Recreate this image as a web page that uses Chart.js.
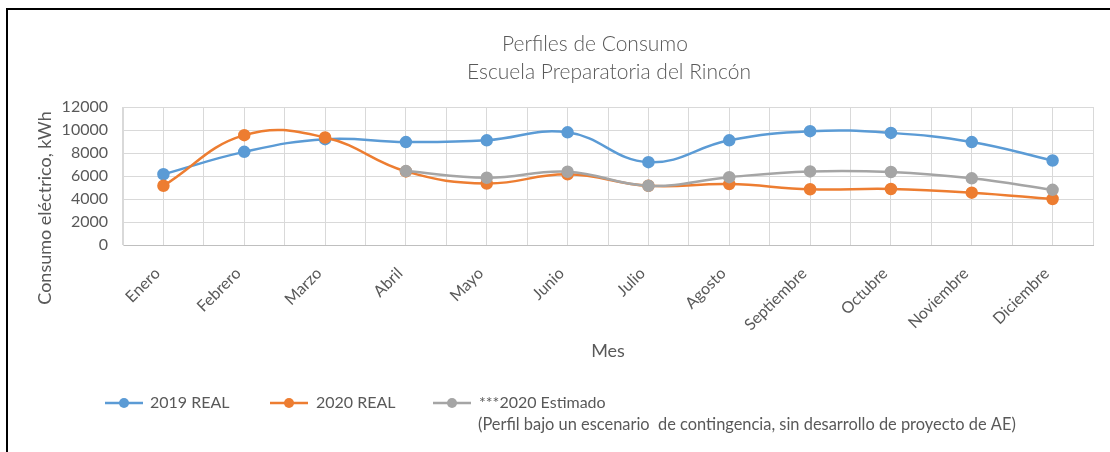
<!DOCTYPE html>
<html><head><meta charset="utf-8">
<script src="https://cdn.jsdelivr.net/npm/chart.js@4/dist/chart.umd.min.js"></script>
<style>html,body{margin:0;padding:0;background:#fff}#wrap{width:1110px;height:452px;position:relative}</style>
</head><body><div id="wrap"><canvas id="c"></canvas></div>
<script>
const categories = ['Enero','Febrero','Marzo','Abril','Mayo','Junio','Julio','Agosto','Septiembre','Octubre','Noviembre','Diciembre'];
const real2019 = [6150, 8100, 9200, 8950, 9100, 9800, 7200, 9100, 9900, 9750, 8950, 7350];
const real2020 = [5150, 9550, 9350, 6400, 5350, 6150, 5150, 5300, 4850, 4870, 4550, 4000];
const estimado2020 = [null, null, null, 6430, 5850, 6370, 5150, 5900, 6400, 6350, 5800, 4800];
const seriesNames = ['2019 REAL', '2020 REAL', '***2020 Estimado'];
const seriesColors = ['#5B9BD5', '#ED7D31', '#A5A5A5'];
const titleLines = ['Perfiles de Consumo', 'Escuela Preparatoria del Rincón'];
const yAxisTitle = 'Consumo eléctrico, kWh';
const xAxisTitle = 'Mes';
const legendNote = '(Perfil bajo un escenario  de contingencia, sin desarrollo de proyecto de AE)';
const yMin = 0, yMax = 12000, yStep = 2000;

const FONT = 'Lato, "Open Sans", sans-serif';
const TXT = '#595959';
const GRID = '#D9D9D9';

const decor = {
  id: 'decor',
  afterDraw(chart) {
    const ctx = chart.ctx;
    const area = chart.chartArea;
    ctx.save();
    // frame
    ctx.fillStyle = '#000';
    ctx.fillRect(6, 8, 2, 452);
    ctx.fillRect(6, 8, 1104, 2);
    // title
    ctx.fillStyle = TXT;
    ctx.textAlign = 'center';
    ctx.textBaseline = 'middle';
    ctx.font = '300 21px ' + FONT;
    ctx.fillText(titleLines[0], 595, 44);
    ctx.fillText(titleLines[1], 609, 72);
    // x title
    ctx.font = '18px ' + FONT;
    ctx.fillText(xAxisTitle, (area.left + area.right) / 2, 351);
    // y title
    ctx.save();
    ctx.font = '18px ' + FONT;
    ctx.translate(45, 208);
    ctx.rotate(-Math.PI / 2);
    ctx.fillText(yAxisTitle, 0, 0);
    ctx.restore();
    // legend
    const items = [[105, 150], [270, 316], [433, 479]];
    ctx.font = '16px ' + FONT;
    ctx.textAlign = 'left';
    items.forEach((it, i) => {
      const y = 403;
      ctx.strokeStyle = seriesColors[i];
      ctx.lineWidth = 2.5;
      ctx.beginPath();
      ctx.moveTo(it[0], y);
      ctx.lineTo(it[0] + 38, y);
      ctx.stroke();
      ctx.fillStyle = seriesColors[i];
      ctx.beginPath();
      ctx.arc(it[0] + 19, y, 5, 0, Math.PI * 2);
      ctx.fill();
      ctx.fillStyle = TXT;
      ctx.fillText(seriesNames[i], it[1], y);
    });
    ctx.font = '16.4px ' + FONT;
    ctx.fillText(legendNote, 478, 425);
    ctx.restore();
  }
};

function ds(label, data, color, order) {
  return {
    label, data, order,
    borderColor: color, backgroundColor: color,
    pointBackgroundColor: color, pointBorderColor: color,
    borderWidth: 2.5, pointRadius: 5, pointHoverRadius: 5,
    tension: 0.42, fill: false, spanGaps: false
  };
}

new Chart(document.getElementById('c'), {
  type: 'line',
  data: {
    labels: categories,
    datasets: [
      ds(seriesNames[0], real2019, seriesColors[0], 3),
      ds(seriesNames[1], real2020, seriesColors[1], 2),
      ds(seriesNames[2], estimado2020, seriesColors[2], 1)
    ]
  },
  options: {
    responsive: true, maintainAspectRatio: false, animation: false,
    layout: { padding: { left: 0, right: 17, top: 107, bottom: 0 } },
    plugins: { legend: { display: false }, title: { display: false }, tooltip: { enabled: false } },
    scales: {
      x: {
        type: 'category', position: 'bottom', offset: true,
        grid: { color: GRID, lineWidth: 1, offset: false, drawTicks: false },
        border: { color: '#BFBFBF', width: 1 },
        ticks: { color: TXT, font: { family: FONT, size: 16 }, minRotation: 45, maxRotation: 45, padding: 19, labelOffset: -6, autoSkip: false },
        afterFit(s) { s.height = 207; }
      },
      x2: {
        type: 'category', position: 'bottom', offset: true, labels: categories,
        grid: { color: GRID, lineWidth: 1, offset: true, drawTicks: false },
        border: { display: false },
        ticks: { display: false },
        afterFit(s) { s.height = 0; }
      },
      y: {
        min: yMin, max: yMax,
        grid: { color: GRID, lineWidth: 1, drawTicks: false },
        border: { color: GRID, width: 1 },
        ticks: { stepSize: yStep, color: TXT, font: { family: FONT, size: 16 }, padding: 15, callback: v => String(v) },
        afterFit(s) { s.width = 123; }
      }
    }
  },
  plugins: [decor]
});
</script></body></html>
